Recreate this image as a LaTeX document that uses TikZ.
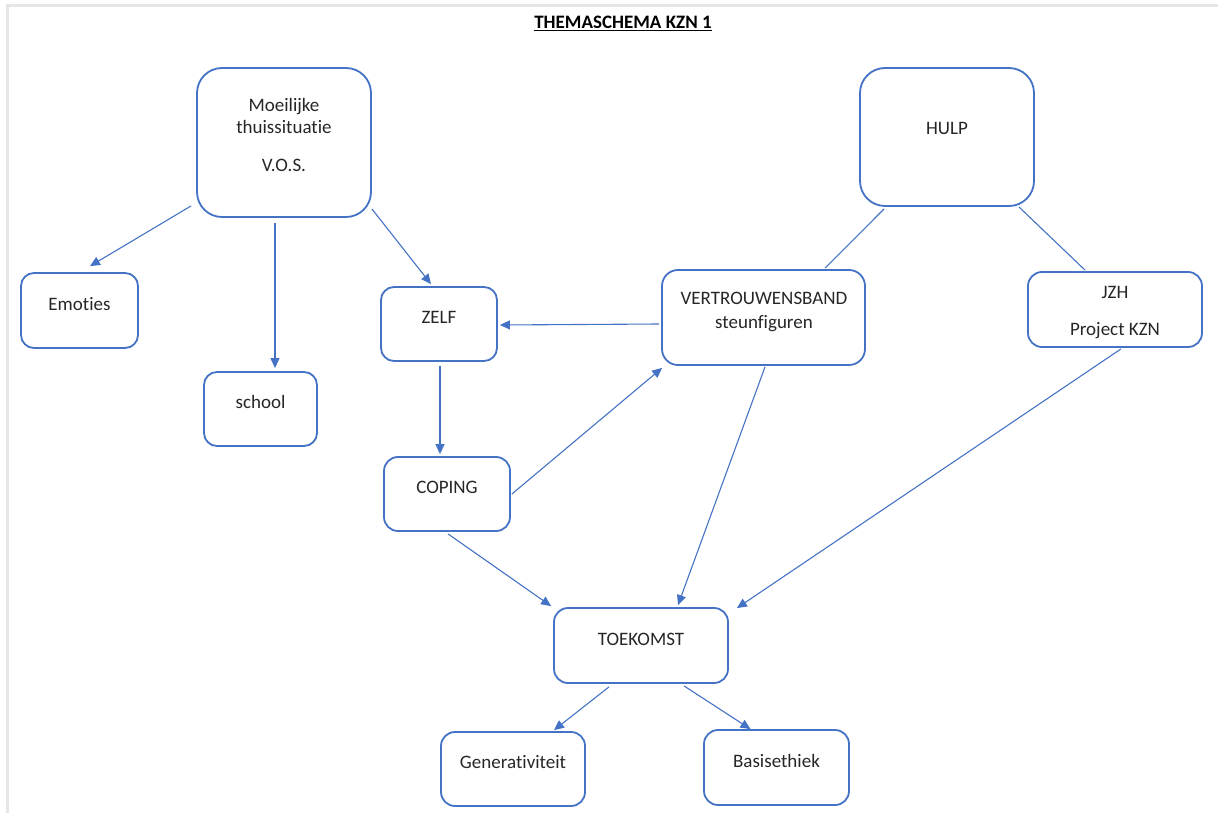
\documentclass[tikz,border=0pt]{standalone}
\usepackage{fontspec}
\setmainfont{Carlito}[Ligatures=NoCommon]
\usetikzlibrary{arrows.meta}
\definecolor{officeblue}{HTML}{4472C4}
\definecolor{framegray}{HTML}{E6E6E6}
\definecolor{textgray}{HTML}{262626}
\begin{document}
\begin{tikzpicture}
[x=1pt,y=-1pt,
 boxdecorate/.style={shape=rectangle,draw=officeblue,line width=1.8pt,inner sep=0pt},%
 textdecorate/.style={anchor=base,inner sep=0pt,text=textgray,font=\fontsize{19}{22}\selectfont},%
 arrowdecorate/.style={draw=officeblue,line width=1.1pt,-{Triangle[length=10pt,width=9pt]}},%
 linedecorate/.style={draw=officeblue,line width=1.1pt,-}]
\useasboundingbox (0,0) rectangle (1218,813);
\draw[framegray,line width=3pt] (7,813) -- (7,6) -- (1218,6);
%% title
\node[textdecorate,font=\fontsize{19}{22}\selectfont\bfseries,text=black] (title) at (623,29) {\underline{THEMASCHEMA KZN 1}};
%% boxes
\foreach \boxname/\x/\y/\w/\h/\r in {moeil/284/142.5/174/149/25, hulp/947/137/174/138/25,
  emoties/79.5/310.5/117/75/13, school/260.5/409/113/74/13, zelf/439/324/116/74/13,
  vertr/763.5/317.5/203/95/16, jzh/1115/309.5/174/75/14, coping/447/494/126/74/14,
  toek/641/645.5/174/75/14, gener/513/769/144/74/14, basis/776.5/767.5/145/75/14} {
  \node (\boxname) at (\x,\y) [boxdecorate,minimum width=\w pt,minimum height=\h pt,rounded corners=\r pt] {};
}
%% texts
\foreach \txtname/\x/\y/\txt in {moeil-a/284/112/Moeilijke, moeil-b/284/134/thuissituatie,
  moeil-c/284/172/V.O.S., hulp-a/947/135/HULP, emoties-a/79.5/310/Emoties,
  school-a/260.5/408/school, zelf-a/439/323/ZELF, vertr-a/764/304/VERTROUWENSBAND,
  vertr-b/764/328/steunfiguren, jzh-a/1115/298/JZH, jzh-b/1115/335/Project KZN,
  coping-a/447/493/COPING, toek-a/641/645/TOEKOMST, gener-a/513/768/Generativiteit,
  basis-a/776.5/767/Basisethiek} {
  \node (\txtname) at (\x,\y) [textdecorate] {\txt};
}
%% arrows
\path
\foreach \s/\sx/\sy/\e/\ex/\ey in {moeil.south west/-5/-12/emoties.north/10.5/-6,
  moeil.south/-9/5/school.north/14.5/-3, moeil.south east/0/-9/zelf.north/-8/-2,
  vertr.west/-2/6.5/zelf.east/2/1, zelf.south/1/4/coping.north/-7/-2,
  coping.east/1/0/vertr.south west/1/2, coping.south/1/2/toek.north west/-2/-1,
  vertr.south/1.5/1/toek.north/37/-2, jzh.south/6/1/toek.north east/8/1,
  toek.south/-32/3/gener.north/41/-1, toek.south/43/2/basis.north/-26/0} {
  ([shift={(\sx,\sy)}]\s) edge[arrowdecorate] ([shift={(\ex,\ey)}]\e)
};
%% plain lines
\path
\foreach \s/\sx/\sy/\e/\ex/\ey in {hulp.south west/25/2/vertr.north/61.5/-1,
  hulp.south east/-16/0/jzh.north/-30/-1} {
  ([shift={(\sx,\sy)}]\s) edge[linedecorate] ([shift={(\ex,\ey)}]\e)
};
\end{tikzpicture}
\end{document}
